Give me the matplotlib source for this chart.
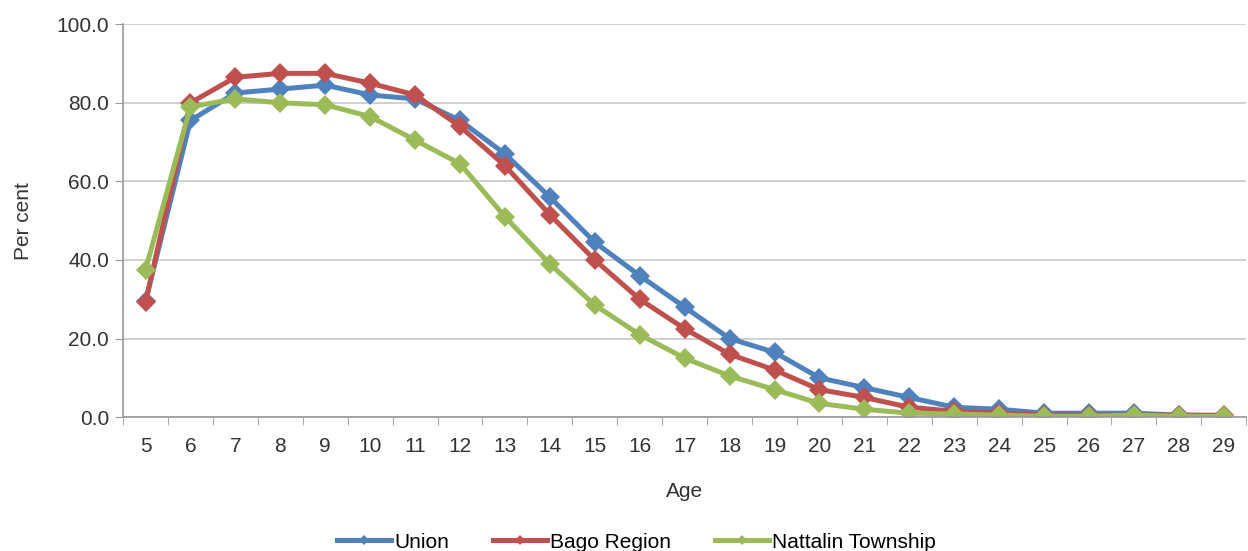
import matplotlib
matplotlib.use("Agg")
import matplotlib.pyplot as plt
from matplotlib.ticker import FixedLocator

plt.rcParams['font.family'] = ['Liberation Sans', 'DejaVu Sans']

ages = [str(a) for a in range(5, 30)]

union = [29.5, 75.5, 82.5, 83.5, 84.5, 82.0, 81.0, 75.5, 67.0, 56.0, 44.5, 36.0,
         28.0, 20.0, 16.5, 10.0, 7.5, 5.0, 2.5, 2.0, 1.0, 1.0, 1.0, 0.5, 0.3]
bago = [29.2, 80.0, 86.5, 87.5, 87.5, 85.0, 82.0, 74.0, 64.0, 51.5, 40.0, 30.0,
        22.5, 16.0, 12.0, 7.0, 5.0, 2.5, 1.5, 1.0, 0.5, 0.5, 0.5, 0.5, 0.5]
nattalin = [37.5, 79.0, 81.0, 80.0, 79.5, 76.5, 70.5, 64.5, 51.0, 39.0, 28.5, 21.0,
            15.0, 10.5, 7.0, 3.5, 2.0, 1.0, 0.8, 0.5, 0.2, 0.2, 0.5, 0.2, 0.2]

series = [
    ("Union", union, "#4F81BD"),
    ("Bago Region", bago, "#C0504D"),
    ("Nattalin Township", nattalin, "#9BBB59"),
]

FS = 15
TXT = "#333333"

fig = plt.figure(figsize=(12.48, 5.51), dpi=100)
ax = fig.add_axes([0.0986, 0.243, 0.9, 0.713])

x = list(range(len(ages)))
for name, vals, col in series:
    ax.plot(x, vals, color=col, lw=3.6, marker="D", markersize=10,
            markeredgewidth=0, label=name, solid_joinstyle="round")

ax.set_xlim(-0.5, len(ages) - 0.5)
ax.set_ylim(0, 100)
ax.set_yticks(range(0, 101, 20))
ax.set_yticklabels([f"{v:.1f}" for v in range(0, 101, 20)], fontsize=FS, color=TXT)
ax.set_xticks(x)
ax.set_xticklabels(ages, fontsize=FS, color=TXT)
ax.xaxis.set_minor_locator(FixedLocator([i - 0.5 for i in range(len(ages) + 1)]))
ax.tick_params(axis="x", which="major", length=0, pad=14)
ax.tick_params(axis="x", which="minor", length=6, color="#999999", direction="out")
ax.tick_params(axis="y", length=6, color="#999999", direction="out", pad=4)

ax.grid(axis="y", color="#C8C8C8", lw=1.2)
ax.set_axisbelow(True)
for side in ("top", "right"):
    ax.spines[side].set_visible(False)
for side in ("left", "bottom"):
    ax.spines[side].set_color("#999999")
    ax.spines[side].set_linewidth(1.2)

ax.set_xlabel("Age", fontsize=FS, color=TXT, labelpad=19)
ax.set_ylabel("Per cent", fontsize=FS, color=TXT, labelpad=17)

fig.legend(loc="lower center", ncol=3, frameon=False, fontsize=FS,
           bbox_to_anchor=(0.51, -0.035), handlelength=2.6, columnspacing=2.1,
           handletextpad=0.15, markerscale=0.5)

fig.savefig("out.png", dpi=100)
